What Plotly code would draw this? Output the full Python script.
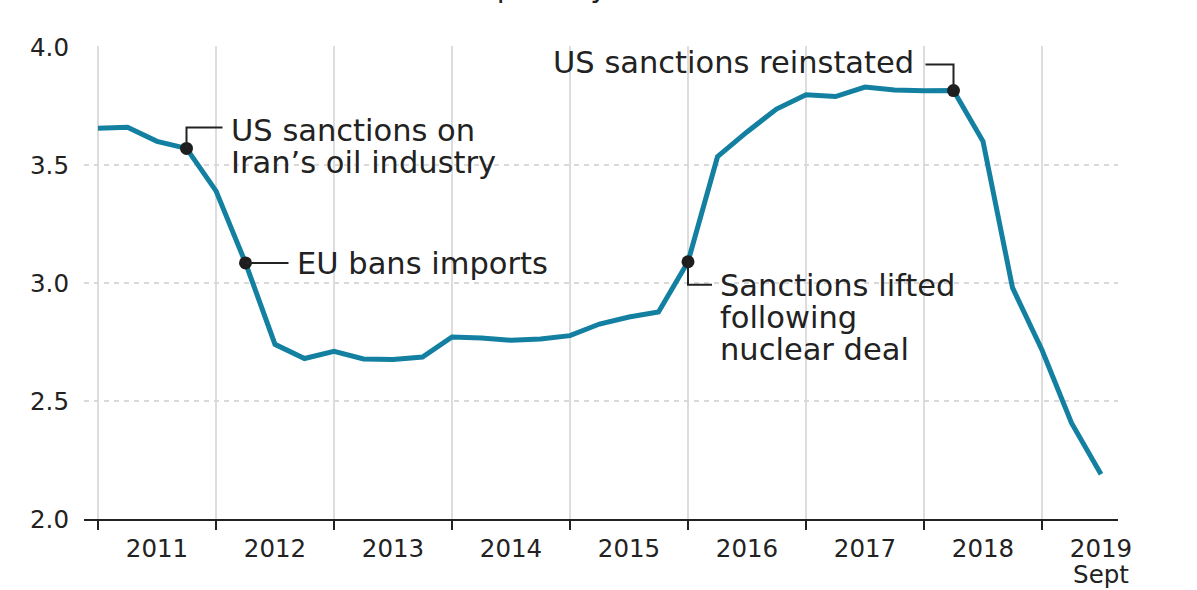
import plotly.graph_objects as go
import pandas as pd

# ---- data ----
quarters = [str(p) for p in pd.period_range("2011Q1", "2019Q3", freq="Q")]
production = [3.655, 3.66, 3.60, 3.57, 3.39, 3.085, 2.74, 2.68, 2.71, 2.678,
              2.676, 2.686, 2.771, 2.767, 2.757, 2.763, 2.777, 2.826, 2.856, 2.877,
              3.09, 3.535, 3.64, 3.737, 3.797, 3.79, 3.83, 3.818, 3.814, 3.815,
              3.60, 2.98, 2.716, 2.407, 2.19]
year_labels = [["2011"], ["2012"], ["2013"], ["2014"], ["2015"], ["2016"], ["2017"],
               ["2018"], ["2019", "Sept"]]
event_quarters = ["2011Q4", "2012Q2", "2016Q1", "2018Q2"]
event_texts = [["US sanctions on", "Iran\u2019s oil industry"],
               ["EU bans imports"],
               ["Sanctions lifted", "following", "nuclear deal"],
               ["US sanctions reinstated"]]
title_text = "Million barrels per day"

# ---- helpers ----
def qx(q):
    p = pd.Period(q, freq="Q")
    return p.year + (p.quarter - 1) / 4

x = [qx(q) for q in quarters]
ev_x = [qx(q) for q in event_quarters]
ev_y = [production[quarters.index(q)] for q in event_quarters]

FONT = "DejaVu Sans"
TXT = "#222222"
LINE = "#1380A1"
PXX = 118.0   # px per year
PXY = 236.0   # px per unit
GLYPH = 30.5  # glyph size of annotation text
BASE = 24.5   # base size -> line spacing 1.3*BASE
TICKG = 24.5  # glyph size of tick labels
TICKB = 20.5  # base size of tick labels -> line spacing


def dx(px):
    return px / PXX


def dy(px):
    return px / PXY


def big(lines, size=GLYPH):
    return "<br>".join(f"<span style='font-size:{size}px'>{t}</span>" for t in lines)


fig = go.Figure()
fig.add_trace(go.Scatter(x=x, y=production, mode="lines",
                         line=dict(color=LINE, width=5), hoverinfo="skip"))
fig.add_trace(go.Scatter(x=ev_x, y=ev_y, mode="markers",
                         marker=dict(color="#1e1e1e", size=13), hoverinfo="skip"))

shapes = []
annotations = []
lw = dict(color=TXT, width=2)
afont = dict(family=FONT, size=BASE, color=TXT)

# 1: US sanctions on Iran's oil industry (up then right)
x0, y0 = ev_x[0], ev_y[0]
ytop = y0 + dy(21)
shapes.append(dict(type="path", xref="x", yref="y",
                   path=f"M {x0},{y0} L {x0},{ytop} L {x0 + dx(36)},{ytop}", line=lw))
annotations.append(dict(x=x0 + dx(42), y=ytop + dy(16), xref="x", yref="y",
                        text=big(event_texts[0]), showarrow=False, xanchor="left",
                        yanchor="top", align="left", font=afont))

# 2: EU bans imports (right)
x0, y0 = ev_x[1], ev_y[1]
shapes.append(dict(type="path", xref="x", yref="y",
                   path=f"M {x0},{y0} L {x0 + dx(43)},{y0}", line=lw))
annotations.append(dict(x=x0 + dx(49), y=y0 - dy(1), xref="x", yref="y",
                        text=big(event_texts[1]), showarrow=False, xanchor="left",
                        yanchor="middle", font=afont))

# 3: Sanctions lifted (down then right)
x0, y0 = ev_x[2], ev_y[2]
ybot = y0 - dy(23)
shapes.append(dict(type="path", xref="x", yref="y",
                   path=f"M {x0},{y0} L {x0},{ybot} L {x0 + dx(24)},{ybot}", line=lw))
annotations.append(dict(x=x0 + dx(30), y=ybot + dy(19), xref="x", yref="y",
                        text=big(event_texts[2]), showarrow=False, xanchor="left",
                        yanchor="top", align="left", font=afont))

# 4: US sanctions reinstated (up then left)
x0, y0 = ev_x[3], ev_y[3]
ytop = y0 + dy(26)
shapes.append(dict(type="path", xref="x", yref="y",
                   path=f"M {x0},{y0} L {x0},{ytop} L {x0 - dx(28)},{ytop}", line=lw))
annotations.append(dict(x=x0 - dx(38), y=ytop + dy(2), xref="x", yref="y",
                        text=big(event_texts[3]), showarrow=False, xanchor="right",
                        yanchor="middle", font=afont))

# cut-off title at the very top
annotations.append(dict(x=0.35, y=1 + 59 / 473, xref="paper", yref="paper",
                        text=title_text, showarrow=False, xanchor="center",
                        yanchor="middle", font=dict(family=FONT, size=29, color=TXT)))

year_starts = list(range(2011, 2020))
fig.update_layout(
    width=1197, height=590,
    margin=dict(l=84, r=79, t=46, b=71, pad=0, autoexpand=False),
    paper_bgcolor="white", plot_bgcolor="white",
    showlegend=False,
    font=dict(family=FONT, size=24.5, color=TXT),
    shapes=shapes, annotations=annotations,
    xaxis=dict(range=[2011 - 14 / 118, 2019 + 76 / 118], automargin=False,
               tickmode="array", tickvals=[y + 0.5 for y in year_starts],
               ticktext=[big(lab, TICKG) for lab in year_labels],
               tickfont=dict(family=FONT, size=TICKB, color=TXT),
               ticks="", showgrid=False, zeroline=False,
               showline=True, linecolor="#222222", linewidth=2,
               ticklabelstandoff=11,
               minor=dict(tickmode="array", tickvals=year_starts, ticks="outside",
                          ticklen=9, tickwidth=2, tickcolor="#222222",
                          showgrid=True, gridcolor="#dddddd", gridwidth=2)),
    yaxis=dict(range=[2.0, 4.004], automargin=False,
               tickmode="array", tickvals=[2.0, 2.5, 3.0, 3.5, 4.0],
               ticktext=["2.0", "2.5", "3.0", "3.5", "4.0"], ticks="",
               showgrid=True, gridcolor="#d9d9d9", gridwidth=1.5, griddash="5px,5px",
               zeroline=False, showline=False, ticklabelstandoff=14),
)

fig.write_html("out.html")
